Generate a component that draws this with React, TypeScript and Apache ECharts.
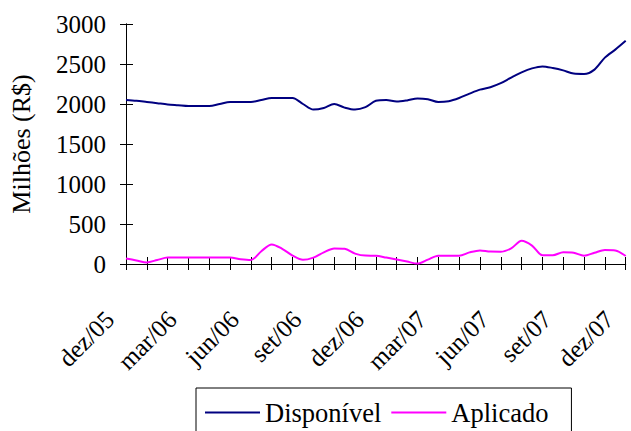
import React, { useEffect, useRef } from "react";
import * as echarts from "echarts";

// Half-month sample points, starting dez/05 (x index = month offset from dez/05)
const disponivel = [
  2050, 2040, 2025, 2010, 1995, 1985, 1975, 1975, 1975, 2000,
  2025, 2025, 2025, 2050, 2075, 2075, 2075, 2000, 1930, 1950,
  2000, 1955, 1930, 1960, 2040, 2050, 2030, 2045, 2070, 2060,
  2025, 2035, 2075, 2130, 2180, 2210, 2260, 2330, 2395, 2445,
  2470, 2450, 2420, 2380, 2375, 2430, 2580, 2680, 2790,
];
const aplicado = [
  70, 45, 20, 50, 80, 80, 80, 80, 80, 80,
  80, 60, 50, 160, 245, 190, 105, 52, 80, 145,
  195, 190, 130, 105, 104, 80, 55, 30, 5, 55,
  104, 104, 104, 145, 170, 155, 154, 195, 290, 230,
  110, 110, 146, 140, 104, 140, 175, 170, 100,
];
const xTickLabels = [
  "dez/05", "mar/06", "jun/06", "set/06", "dez/06",
  "mar/07", "jun/07", "set/07", "dez/07",
];
const yTicks = [0, 500, 1000, 1500, 2000, 2500, 3000];

const FONT = "'Liberation Serif', 'Times New Roman', 'DejaVu Serif', serif";

export default function App() {
  const ref = useRef<HTMLDivElement>(null);
  useEffect(() => {
    if (!ref.current) return;
    const chart = echarts.init(ref.current, undefined, { renderer: "svg" });
    const toPts = (arr: number[]) => arr.map((v, i) => [i / 2, v]);
    const xAxisBase = {
      type: "value" as const,
      min: 0,
      max: (xTickLabels.length - 1) * 3,
      interval: 1,
      splitLine: { show: false },
      axisLine: { show: true, lineStyle: { color: "#000", width: 1 } },
    };
    const yAxisBase = {
      type: "value" as const,
      min: yTicks[0],
      max: yTicks[yTicks.length - 1],
      interval: 500,
      splitLine: { show: false },
      axisLine: { show: true, lineStyle: { color: "#000", width: 1 } },
    };
    chart.setOption({
      animation: false,
      backgroundColor: "#fff",
      textStyle: { fontFamily: FONT },
      grid: { left: 126, right: 1, top: 24, bottom: 431 - 264 },
      legend: {
        left: 196,
        top: 388,
        orient: "horizontal",
        itemWidth: 55,
        itemHeight: 2,
        itemGap: 10,
        itemTextGap: 5,
        padding: [11, 23, 12, 9],
        borderColor: "#000",
        borderWidth: 1,
        borderRadius: 0,
        icon: "rect",
        textStyle: { fontFamily: FONT, fontSize: 26.5, color: "#000" },
        data: ["Disponível", "Aplicado"],
      },
      xAxis: [
        {
          ...xAxisBase,
          position: "bottom",
          axisTick: { show: true, inside: false, length: 6, lineStyle: { color: "#000" } },
          axisLabel: {
            show: true,
            rotate: 45,
            margin: 35,
            padding: [0, 8, 0, 0],
            fontFamily: FONT,
            fontSize: 25,
            color: "#000",
            showMinLabel: true,
            showMaxLabel: true,
            rich: {
              t: { fontFamily: FONT, fontSize: 25, color: "#000" },
              s: { width: 15, fontSize: 25 },
            },
            formatter: (v: number) =>
              Math.abs(v % 3) < 1e-6
                ? `{t|${xTickLabels[Math.round(v / 3)] ?? ""}}{s|}`
                : "",
          },
        },
        {
          ...xAxisBase,
          position: "bottom",
          offset: 0,
          axisTick: { show: true, inside: true, length: 7, lineStyle: { color: "#000" } },
          axisLabel: { show: false },
        },
      ],
      yAxis: [
        {
          ...yAxisBase,
          position: "left",
          name: "Milhões (R$)",
          nameLocation: "middle",
          nameGap: 92,
          nameTextStyle: { fontFamily: FONT, fontSize: 26, color: "#000" },
          axisTick: { show: true, inside: false, length: 6, lineStyle: { color: "#000" } },
          axisLabel: {
            margin: 20,
            fontFamily: FONT,
            fontSize: 25,
            color: "#000",
            formatter: (v: number) => String(v),
          },
        },
        {
          ...yAxisBase,
          position: "left",
          offset: 0,
          axisTick: { show: true, inside: true, length: 7, lineStyle: { color: "#000" } },
          axisLabel: { show: false },
        },
      ],
      series: [
        {
          name: "Disponível",
          type: "line",
          data: toPts(disponivel),
          showSymbol: false,
          symbol: "none",
          smooth: 0.3,
          lineStyle: { color: "#000080", width: 2 },
          itemStyle: { color: "#000080" },
        },
        {
          name: "Aplicado",
          type: "line",
          data: toPts(aplicado),
          showSymbol: false,
          symbol: "none",
          smooth: 0.3,
          lineStyle: { color: "#FF00FF", width: 2 },
          itemStyle: { color: "#FF00FF" },
        },
      ],
    });
    return () => chart.dispose();
  }, []);
  return (
    <div
      ref={ref}
      style={{ position: "fixed", left: 0, top: 0, width: 631, height: 431 }}
    />
  );
}
